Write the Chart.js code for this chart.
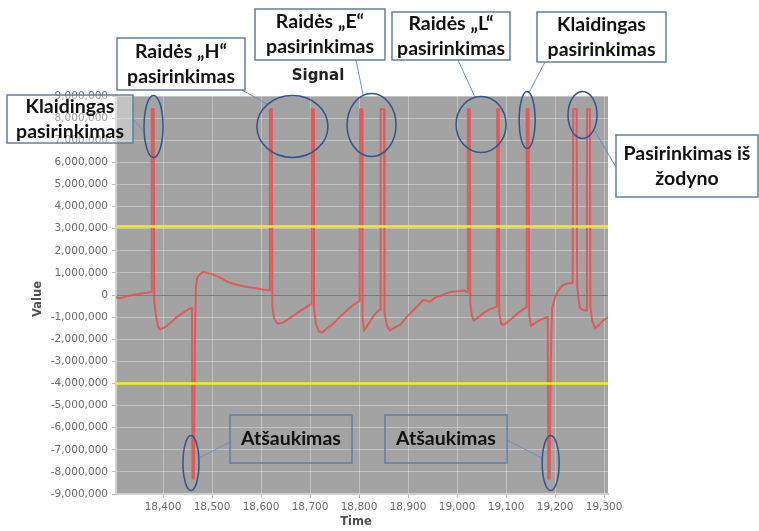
<!DOCTYPE html>
<html>
<head>
<meta charset="utf-8">
<script src="https://cdn.jsdelivr.net/npm/chart.js@4.4.1/dist/chart.umd.min.js"></script>
<style>
  html, body { margin: 0; padding: 0; background: #ffffff; }
  #wrap { width: 759px; height: 531px; }
</style>
</head>
<body>
<div id="wrap"><canvas id="c" width="759" height="531"></canvas></div>
<script>
// ---------------- DATA ----------------
const chartTitle = 'Signal';
const xAxisTitle = 'Time';
const yAxisTitle = 'Value';

const xTickValues = [18400, 18500, 18600, 18700, 18800, 18900, 19000, 19100, 19200, 19300];
const xMin = 18304;
const xMax = 19308;
const yMin = -9000000;
const yMax = 9000000;
const yStep = 1000000;

const upperThreshold = 3100000;
const lowerThreshold = -4000000;

const signalTime = [
  18304, 18310, 18318, 18326, 18334, 18342, 18350, 18358, 18366, 18372,
  18376, 18377, 18381, 18382, 18386, 18390, 18394, 18400, 18408, 18418,
  18428, 18438, 18448, 18456, 18459, 18460, 18463, 18465, 18467, 18470,
  18476, 18482, 18490, 18500, 18510, 18520, 18531, 18545, 18563, 18575,
  18590, 18603, 18612, 18617, 18618, 18622, 18623, 18627, 18634, 18645,
  18655, 18665, 18675, 18685, 18695, 18702, 18703, 18707, 18708, 18712,
  18718, 18725, 18735, 18747, 18760, 18775, 18788, 18801, 18802, 18806,
  18807, 18810, 18815, 18825, 18835, 18843, 18844, 18851, 18852, 18857,
  18863, 18874, 18884, 18897, 18910, 18921, 18931, 18945, 18955, 18965,
  18976, 18986, 18996, 19006, 19014, 19021, 19022, 19026, 19027, 19030,
  19034, 19044, 19055, 19066, 19078, 19081, 19082, 19085, 19086, 19090,
  19096, 19110, 19125, 19138, 19141, 19142, 19146, 19147, 19151, 19157,
  19168, 19178, 19185, 19186, 19189, 19191, 19194, 19200, 19206, 19216,
  19226, 19236, 19237, 19244, 19245, 19248, 19251, 19258, 19264, 19265,
  19271, 19272, 19276, 19282, 19290, 19298, 19308
];

const signalValue = [
  -100000, -150000, -120000, -50000, -20000, 30000, 50000, 80000, 100000, 120000,
  150000, 8400000, 8400000, -300000, -1000000, -1450000, -1550000, -1500000, -1400000, -1200000,
  -1000000, -850000, -700000, -600000, -600000, -8300000, -8300000, -2000000, 400000, 800000,
  950000, 1050000, 1000000, 950000, 850000, 750000, 600000, 500000, 400000, 350000,
  300000, 250000, 220000, 200000, 8400000, 8400000, -500000, -1100000, -1300000, -1250000,
  -1100000, -950000, -800000, -650000, -500000, -420000, 8400000, 8400000, -600000, -1300000,
  -1650000, -1700000, -1500000, -1300000, -1000000, -700000, -450000, -280000, 8400000, 8400000,
  -1000000, -1600000, -1450000, -1100000, -800000, -650000, 8400000, 8400000, -800000, -1400000,
  -1600000, -1450000, -1350000, -1000000, -700000, -450000, -230000, -300000, -120000, -50000,
  50000, 140000, 160000, 180000, 200000, 140000, 8400000, 8400000, -400000, -900000,
  -1150000, -1000000, -800000, -650000, -550000, -520000, 8400000, 8400000, -800000, -1300000,
  -1350000, -1100000, -800000, -600000, -550000, 8400000, 8400000, -900000, -1400000, -1300000,
  -1150000, -1050000, -1000000, -8300000, -8300000, -3000000, -600000, -100000, 200000, 450000,
  520000, 550000, 8400000, 8400000, 400000, -200000, -600000, -680000, -700000, 8400000,
  8400000, -500000, -1200000, -1500000, -1350000, -1150000, -1000000
];

// ---------------- ANNOTATIONS (callouts) ----------------
const calloutBoxes = [
  { x: 7,   y: 95,  w: 126, h: 48, lines: ['Klaidingas', 'pasirinkimas'], fill: 'rgba(255,255,255,0.35)' },
  { x: 117, y: 38,  w: 128, h: 52, lines: ['Raidės „H“', 'pasirinkimas'], fill: '#ffffff' },
  { x: 255, y: 9,   w: 130, h: 51, lines: ['Raidės „E“', 'pasirinkimas'], fill: '#ffffff' },
  { x: 392, y: 12,  w: 118, h: 48, lines: ['Raidės „L“', 'pasirinkimas'], fill: '#ffffff' },
  { x: 537, y: 12,  w: 129, h: 50, lines: ['Klaidingas', 'pasirinkimas'], fill: '#ffffff' },
  { x: 616, y: 135, w: 142, h: 62, lines: ['Pasirinkimas iš', 'žodyno'], fill: '#ffffff' },
  { x: 230, y: 415, w: 122, h: 48, lines: ['Atšaukimas'], fill: null },
  { x: 385, y: 415, w: 122, h: 48, lines: ['Atšaukimas'], fill: null }
];
// ellipses anchored in data coordinates (time, value), radii in px
const calloutEllipses = [
  { t: 18380.6, v: 7620000, rx: 9.5,  ry: 31 },
  { t: 18664,   v: 7620000, rx: 35.5, ry: 31 },
  { t: 18825.5, v: 7690000, rx: 24.5, ry: 31.5 },
  { t: 19049,   v: 7710000, rx: 25,   ry: 28 },
  { t: 19143,   v: 7910000, rx: 8,    ry: 28.5 },
  { t: 19256,   v: 8140000, rx: 14.5, ry: 23.5 },
  { t: 18457,   v: -7600000, rx: 8,   ry: 27.5 },
  { t: 19191,   v: -7600000, rx: 8.5, ry: 27.5 }
];
// connectors: from a box point (px) to an ellipse at an angle (deg)
const calloutLinks = [
  { from: [133, 119], ellipse: 0, angle: 170 },
  { from: [240, 89],  ellipse: 1, angle: 226 },
  { from: [356, 60],  ellipse: 2, angle: 250 },
  { from: [458, 60],  ellipse: 3, angle: 256 },
  { from: [545, 62],  ellipse: 4, angle: 284 },
  { from: [616, 167], ellipse: 5, angle: 38 },
  { from: [230, 442], ellipse: 6, angle: 350 },
  { from: [507, 440], ellipse: 7, angle: 190 }
];

// ---------------- CHART ----------------
const signalPoints = signalTime.map((t, i) => ({ x: t, y: signalValue[i] }));

const plotBackground = {
  id: 'plotBackground',
  beforeDraw(chart) {
    const { ctx, chartArea: a } = chart;
    ctx.save();
    ctx.fillStyle = '#a3a3a3';
    ctx.fillRect(a.left, a.top, a.right - a.left, a.bottom - a.top);
    ctx.restore();
  }
};

const decorations = {
  id: 'decorations',
  afterDraw(chart) {
    const { ctx, chartArea: a, scales } = chart;
    ctx.save();
    // title
    ctx.fillStyle = '#222222';
    ctx.font = 'bold 15px "DejaVu Sans", sans-serif';
    ctx.textAlign = 'center';
    ctx.textBaseline = 'middle';
    ctx.fillText(chartTitle, 318, 76);
    // axis titles
    ctx.fillStyle = '#505050';
    ctx.font = 'bold 11.5px "DejaVu Sans", sans-serif';
    ctx.fillText(xAxisTitle, 356, 522);
    ctx.save();
    ctx.translate(38, 299);
    ctx.rotate(-Math.PI / 2);
    ctx.fillText(yAxisTitle, 0, 0);
    ctx.restore();

    // ellipses
    const ells = calloutEllipses.map(e => ({
      cx: scales.x.getPixelForValue(e.t),
      cy: scales.y.getPixelForValue(e.v),
      rx: e.rx, ry: e.ry
    }));
    // connectors
    ctx.strokeStyle = '#6f8fc2';
    ctx.lineWidth = 1;
    calloutLinks.forEach(l => {
      const e = ells[l.ellipse];
      const ang = l.angle * Math.PI / 180;
      ctx.beginPath();
      ctx.moveTo(l.from[0], l.from[1]);
      ctx.lineTo(e.cx + e.rx * Math.cos(ang), e.cy + e.ry * Math.sin(ang));
      ctx.stroke();
    });
    ctx.strokeStyle = '#34548a';
    ctx.lineWidth = 1.5;
    ells.forEach(e => {
      ctx.beginPath();
      ctx.ellipse(e.cx, e.cy, e.rx, e.ry, 0, 0, Math.PI * 2);
      ctx.stroke();
    });
    // boxes
    calloutBoxes.forEach(b => {
      if (b.fill) {
        ctx.fillStyle = b.fill;
        ctx.fillRect(b.x, b.y, b.w, b.h);
      }
      ctx.strokeStyle = '#60809f';
      ctx.lineWidth = 1.5;
      ctx.strokeRect(b.x, b.y, b.w, b.h);
      ctx.fillStyle = '#111111';
      ctx.font = 'bold 19.5px Lato, "Open Sans", sans-serif';
      ctx.textAlign = 'center';
      ctx.textBaseline = 'middle';
      const lh = 25;
      const cy = b.y + b.h / 2;
      const n = b.lines.length;
      b.lines.forEach((txt, i) => {
        ctx.fillText(txt, b.x + b.w / 2, cy + (i - (n - 1) / 2) * lh);
      });
    });
    ctx.restore();
  }
};

const tickFont = { family: '"DejaVu Sans", sans-serif', size: 10.5 };

new Chart(document.getElementById('c'), {
  type: 'line',
  data: {
    datasets: [
      {
        label: 'Upper threshold',
        data: [{ x: xMin, y: upperThreshold }, { x: xMax, y: upperThreshold }],
        borderColor: '#f0ef1a',
        borderWidth: 2.5,
        pointRadius: 0
      },
      {
        label: 'Lower threshold',
        data: [{ x: xMin, y: lowerThreshold }, { x: xMax, y: lowerThreshold }],
        borderColor: '#f0ef1a',
        borderWidth: 2.5,
        pointRadius: 0
      },
      {
        label: 'Signal',
        data: signalPoints,
        borderColor: 'rgba(238, 72, 72, 0.8)',
        borderWidth: 2,
        pointRadius: 0,
        tension: 0
      }
    ]
  },
  options: {
    responsive: false,
    animation: false,
    layout: { padding: { top: 96, right: 151, left: 0, bottom: 0 } },
    plugins: {
      legend: { display: false },
      title: { display: false },
      tooltip: { enabled: false }
    },
    scales: {
      x: {
        type: 'linear',
        min: xMin,
        max: xMax,
        afterBuildTicks: s => { s.ticks = xTickValues.map(v => ({ value: v })); },
        afterFit: s => { s.height = 37; },
        ticks: {
          color: '#6a6a6a',
          font: tickFont,
          padding: 3,
          maxRotation: 0,
          autoSkip: false,
          callback: v => Number(v).toLocaleString('en-US')
        },
        grid: {
          color: 'rgba(255,255,255,0.33)',
          lineWidth: 1,
          tickLength: 4,
          tickColor: '#b8b8b8'
        },
        border: { color: '#d0d0d0', width: 2 }
      },
      y: {
        type: 'linear',
        min: yMin,
        max: yMax,
        afterFit: s => { s.width = 116; },
        ticks: {
          stepSize: yStep,
          color: '#6a6a6a',
          font: tickFont,
          padding: 4,
          autoSkip: false,
          callback: v => Number(v).toLocaleString('en-US')
        },
        grid: {
          color: c => (c.tick && c.tick.value === 0) ? '#7c7c7c' : 'rgba(255,255,255,0.33)',
          lineWidth: 1,
          tickLength: 4,
          tickColor: '#b8b8b8'
        },
        border: { color: '#d0d0d0', width: 2 }
      }
    }
  },
  plugins: [plotBackground, decorations]
});
</script>
</body>
</html>
